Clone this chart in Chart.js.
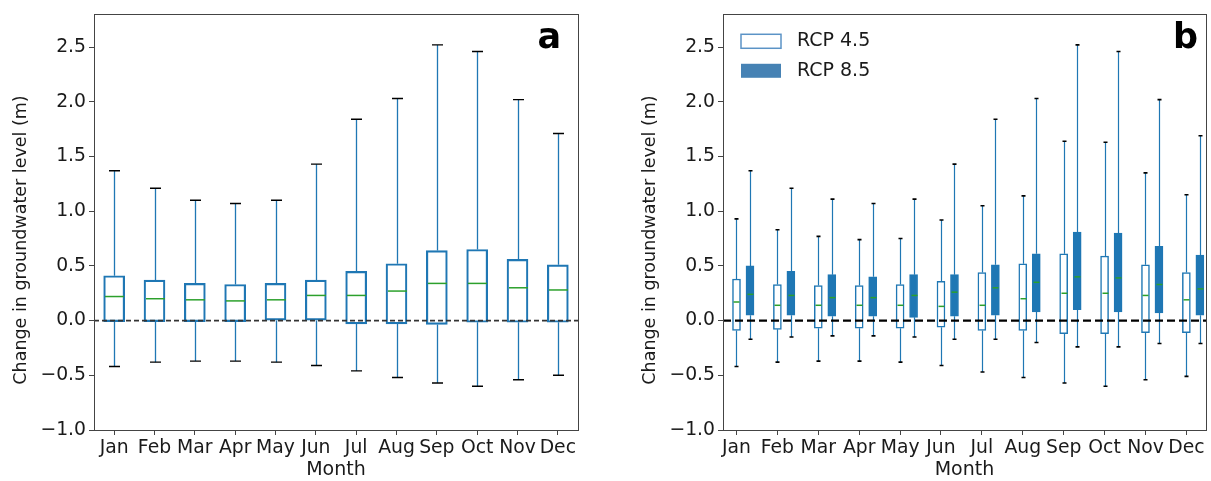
<!DOCTYPE html>
<html>
<head>
<meta charset="utf-8">
<script src="https://cdn.jsdelivr.net/npm/chart.js@4.4.1/dist/chart.umd.min.js"></script>
<style>
  html, body { margin: 0; padding: 0; background: #fff; }
  body { width: 1211px; height: 481px; position: relative; overflow: hidden; }
  canvas { position: absolute; top: 0; }
  #chart-a { left: 0; }
  #chart-b { left: 629px; }
</style>
</head>
<body>
<canvas id="chart-a" width="600" height="481"></canvas>
<canvas id="chart-b" width="582" height="481"></canvas>
<script>
// Months on the x axis
const months = ["Jan", "Feb", "Mar", "Apr", "May", "Jun", "Jul", "Aug", "Sep", "Oct", "Nov", "Dec"];
const yTicks = [-1.0, -0.5, 0.0, 0.5, 1.0, 1.5, 2.0, 2.5];

// Panel a - all scenarios together
const allMin = [-0.42, -0.38, -0.37, -0.37, -0.38, -0.41, -0.46, -0.52, -0.57, -0.60, -0.54, -0.50];
const allQ1 = [-0.01, -0.01, -0.01, -0.01, 0.0, 0.0, -0.03, -0.03, -0.035, -0.015, -0.015, -0.015];
const allMed = [0.22, 0.20, 0.19, 0.18, 0.19, 0.23, 0.23, 0.27, 0.34, 0.34, 0.30, 0.28];
const allQ3 = [0.41, 0.37, 0.34, 0.33, 0.34, 0.37, 0.45, 0.52, 0.64, 0.65, 0.56, 0.51];
const allMax = [1.37, 1.21, 1.10, 1.07, 1.10, 1.43, 1.84, 2.03, 2.52, 2.46, 2.02, 1.71];

// Panel b - RCP 4.5
const rcp45Min = [-0.42, -0.38, -0.37, -0.37, -0.38, -0.41, -0.47, -0.52, -0.57, -0.60, -0.54, -0.51];
const rcp45Q1 = [-0.09, -0.08, -0.07, -0.07, -0.07, -0.06, -0.09, -0.09, -0.12, -0.12, -0.11, -0.11];
const rcp45Med = [0.17, 0.14, 0.14, 0.14, 0.14, 0.13, 0.14, 0.20, 0.25, 0.25, 0.23, 0.19];
const rcp45Q3 = [0.38, 0.33, 0.32, 0.32, 0.33, 0.36, 0.44, 0.52, 0.61, 0.59, 0.51, 0.44];
const rcp45Max = [0.93, 0.83, 0.77, 0.74, 0.75, 0.92, 1.05, 1.14, 1.64, 1.63, 1.35, 1.15];

// Panel b - RCP 8.5
const rcp85Min = [-0.17, -0.15, -0.14, -0.14, -0.15, -0.17, -0.17, -0.20, -0.24, -0.24, -0.21, -0.21];
const rcp85Q1 = [0.05, 0.05, 0.04, 0.04, 0.03, 0.04, 0.05, 0.08, 0.10, 0.08, 0.07, 0.05];
const rcp85Med = [0.24, 0.23, 0.21, 0.21, 0.23, 0.26, 0.30, 0.35, 0.40, 0.39, 0.33, 0.29];
const rcp85Q3 = [0.50, 0.45, 0.42, 0.40, 0.42, 0.42, 0.51, 0.61, 0.81, 0.80, 0.68, 0.60];
const rcp85Max = [1.37, 1.21, 1.11, 1.07, 1.11, 1.43, 1.84, 2.03, 2.52, 2.46, 2.02, 1.69];

const blue = "#1f77b4";
const green = "#2ca02c";
const textColor = "#1a1a1a";
const frameColor = "#444";
const fontFamily = "'DejaVu Sans', sans-serif";
const tickFont = { family: fontFamily, size: 18.8 };
const yTitle = "Change in groundwater level (m)";

// Whiskers, caps, medians, zero line, frame and labels
const boxExtras = {
  id: "boxExtras",
  beforeDatasetsDraw(chart, args, o) {
    const { ctx, scales: { x, y } } = chart;
    ctx.save();
    o.series.forEach((s) => {
      ctx.strokeStyle = blue;
      ctx.lineWidth = s.whiskerWidth;
      months.forEach((m, i) => {
        const px = Math.round(x.getPixelForValue(i + 1 + s.shift)) + 0.5;
        ctx.beginPath();
        ctx.moveTo(px, y.getPixelForValue(s.q3[i]));
        ctx.lineTo(px, y.getPixelForValue(s.max[i]));
        ctx.moveTo(px, y.getPixelForValue(s.q1[i]));
        ctx.lineTo(px, y.getPixelForValue(s.min[i]));
        ctx.stroke();
      });
    });
    ctx.restore();
  },
  afterDatasetsDraw(chart, args, o) {
    const { ctx, chartArea: ca, scales: { x, y } } = chart;
    ctx.save();
    o.series.forEach((s) => {
      months.forEach((m, i) => {
        const px = Math.round(x.getPixelForValue(i + 1 + s.shift)) + 0.5;
        // caps
        ctx.strokeStyle = "#000";
        ctx.lineWidth = s.capLine;
        ctx.beginPath();
        [s.max[i], s.min[i]].forEach((v) => {
          const py = y.getPixelForValue(v);
          ctx.moveTo(px - s.capPx / 2, py);
          ctx.lineTo(px + s.capPx / 2, py);
        });
        ctx.stroke();
        // median
        ctx.strokeStyle = green;
        ctx.lineWidth = 1.5;
        ctx.beginPath();
        const my = y.getPixelForValue(s.med[i]);
        ctx.moveTo(px - s.boxPx / 2 + 1, my);
        ctx.lineTo(px + s.boxPx / 2 - 1, my);
        ctx.stroke();
      });
    });

    // zero line
    const zy = y.getPixelForValue(0);
    ctx.strokeStyle = o.zero.color;
    ctx.lineWidth = o.zero.width;
    ctx.setLineDash(o.zero.dash);
    ctx.beginPath();
    ctx.moveTo(ca.left, zy);
    ctx.lineTo(ca.right, zy);
    ctx.stroke();
    ctx.setLineDash([]);

    // frame
    ctx.strokeStyle = frameColor;
    ctx.lineWidth = 1;
    ctx.strokeRect(Math.round(ca.left) + 0.5, Math.round(ca.top) + 0.5,
      Math.round(ca.right - ca.left), Math.round(ca.bottom - ca.top));

    // panel letter
    ctx.fillStyle = "#000";
    ctx.font = "bold 35px " + fontFamily;
    ctx.textAlign = "right";
    ctx.textBaseline = "alphabetic";
    ctx.fillText(o.letter, ca.right - o.letterInset, ca.top + 34);

    // y axis title
    ctx.save();
    ctx.translate(21, 240);
    ctx.rotate(-Math.PI / 2);
    ctx.font = "17.5px " + fontFamily;
    ctx.fillStyle = textColor;
    ctx.textAlign = "center";
    ctx.textBaseline = "middle";
    ctx.fillText(yTitle, 0, 0);
    ctx.restore();

    // legend
    if (o.legend) {
      ctx.font = "19px " + fontFamily;
      ctx.textAlign = "left";
      ctx.textBaseline = "middle";
      o.legend.forEach((item, k) => {
        const lx = ca.left + 18;
        const ly = ca.top + 20 + k * 29.5;
        ctx.fillStyle = item.fill;
        ctx.fillRect(lx, ly, 40, 14);
        if (item.stroke) {
          ctx.strokeStyle = item.stroke;
          ctx.lineWidth = 1.5;
          ctx.strokeRect(lx, ly, 40, 14);
        }
        ctx.fillStyle = textColor;
        ctx.fillText(item.text, lx + 56, ly + 7);
      });
    }
    ctx.restore();
  },
};

function boxData(q1, q3, shift) {
  return months.map((m, i) => ({ x: i + 1 + shift, y: [q1[i], q3[i]] }));
}

function makeChart(canvasId, cfg) {
  return new Chart(document.getElementById(canvasId), {
    type: "bar",
    data: { datasets: cfg.datasets },
    options: {
      responsive: false,
      animation: false,
      layout: { padding: { top: 8, right: cfg.padRight, bottom: 0, left: 0 } },
      plugins: {
        legend: { display: false },
        tooltip: { enabled: false },
        boxExtras: cfg.extras,
      },
      scales: {
        x: {
          type: "linear",
          min: cfg.xMin,
          max: cfg.xMax,
          offset: false,
          afterBuildTicks: (s) => { s.ticks = months.map((m, i) => ({ value: i + 1 })); },
          afterFit: (s) => { s.height = 51; },
          ticks: {
            autoSkip: false,
            maxRotation: 0,
            padding: 2,
            color: textColor,
            font: tickFont,
            callback: (v) => months[Math.round(v) - 1],
          },
          grid: { offset: false, drawOnChartArea: false, drawTicks: true, tickLength: 5, color: frameColor },
          border: { display: false },
          title: { display: true, text: "Month", color: textColor, font: { family: fontFamily, size: 19 }, padding: { top: 0, bottom: 0 } },
        },
        y: {
          min: -1,
          max: 2.8,
          afterBuildTicks: (s) => { s.ticks = yTicks.map((v) => ({ value: v })); },
          afterFit: (s) => { s.width = 94; },
          ticks: {
            padding: 3,
            color: textColor,
            font: tickFont,
            callback: (v) => (v < 0 ? "\u2212" : "") + Math.abs(v).toFixed(1),
          },
          grid: { drawOnChartArea: false, drawTicks: true, tickLength: 5, color: frameColor },
          border: { display: false },
        },
      },
    },
    plugins: [boxExtras],
  });
}

// Panel a
makeChart("chart-a", {
  xMin: 0.5,
  xMax: 12.5,
  padRight: 22,
  datasets: [
    {
      label: "All",
      data: boxData(allQ1, allQ3, 0),
      backgroundColor: "rgba(0,0,0,0)",
      borderColor: blue,
      borderWidth: 1.5,
      borderSkipped: false,
      barThickness: 21,
      grouped: false,
    },
  ],
  extras: {
    letter: "a",
    letterInset: 17,
    zero: { color: "#333", width: 1.6, dash: [5, 3] },
    series: [
      { shift: 0, min: allMin, q1: allQ1, med: allMed, q3: allQ3, max: allMax, boxPx: 21, capPx: 11, capLine: 1.4, whiskerWidth: 1.3 },
    ],
  },
});

// Panel b
const rcpShift = 0.33;
makeChart("chart-b", {
  xMin: 0.67,
  xMax: 12.48,
  padRight: 5,
  datasets: [
    {
      label: "RCP 4.5",
      data: boxData(rcp45Q1, rcp45Q3, 0),
      backgroundColor: "#fff",
      borderColor: blue,
      borderWidth: 1.5,
      borderSkipped: false,
      barThickness: 8,
      grouped: false,
    },
    {
      label: "RCP 8.5",
      data: boxData(rcp85Q1, rcp85Q3, rcpShift),
      backgroundColor: blue,
      borderColor: blue,
      borderWidth: 1,
      borderSkipped: false,
      barThickness: 8,
      grouped: false,
    },
  ],
  extras: {
    letter: "b",
    letterInset: 8,
    zero: { color: "#000", width: 2.2, dash: [8, 4] },
    legend: [
      { text: "RCP 4.5", fill: "#fff", stroke: "#5b93c6" },
      { text: "RCP 8.5", fill: "#4682b4" },
    ],
    series: [
      { shift: 0, min: rcp45Min, q1: rcp45Q1, med: rcp45Med, q3: rcp45Q3, max: rcp45Max, boxPx: 8, capPx: 4, capLine: 1.6, whiskerWidth: 1.2 },
      { shift: rcpShift, min: rcp85Min, q1: rcp85Q1, med: rcp85Med, q3: rcp85Q3, max: rcp85Max, boxPx: 8, capPx: 4, capLine: 1.6, whiskerWidth: 1.2 },
    ],
  },
});
</script>
</body>
</html>
